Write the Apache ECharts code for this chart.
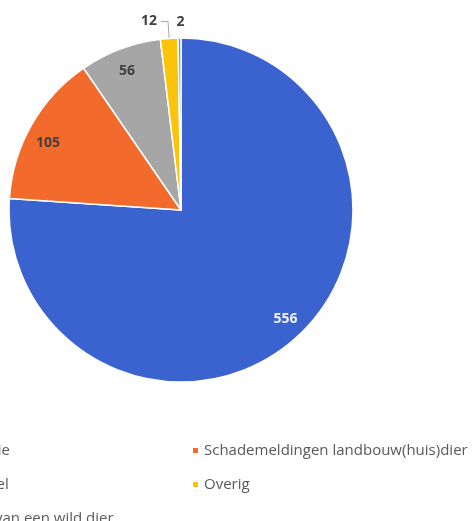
<!DOCTYPE html>
<html>
<head>
<meta charset="utf-8">
<script src="https://cdn.jsdelivr.net/npm/echarts@6/dist/echarts.min.js"></script>
<style>
html,body{margin:0;padding:0;background:#fff;}
#c{width:474px;height:521px;}
</style>
</head>
<body>
<div id="c"></div>
<script>
var categories = ['Observatie', 'Schademeldingen landbouw(huis)dier', 'Uitwerpsel', 'Overig', 'Kadaver van een wild dier'];
var values = [556, 105, 56, 12, 2];
var colors = ['#3b63cf', '#f26a2c', '#a6a6a6', '#fcc30b', '#5b9bd5'];
var leftLegend = [categories[0], categories[2], categories[4]];
var rightLegend = [categories[1], categories[3]];

var FONT = '"Open Sans", "Noto Sans", sans-serif';
var labelColors = ['#eef1fa', '#404040', '#404040', '#404040', '#404040'];
var labelShiftY = [-3, 9, 4, 0, 0];

var mainData = categories.map(function (n, i) {
  var d = { name: n, value: values[i], itemStyle: { color: colors[i] } };
  if (i === 3) {
    d.label = { show: true, position: 'outside', formatter: '{c}', color: '#404040', fontWeight: 'bold', fontSize: 14, fontFamily: FONT, distanceToLabelLine: 4 };
    d.labelLine = { show: true, length: 17, length2: 7, lineStyle: { color: '#a6a6a6', width: 1 } };
  }
  return d;
});

var overlayData = categories.map(function (n, i) {
  var d = { name: n, value: values[i] };
  if (i <= 2) {
    d.label = { show: true, position: 'inside', formatter: '{c}', color: labelColors[i], fontWeight: 'bold', fontSize: 14, fontFamily: FONT };
  } else if (i === 4) {
    d.label = { show: true, position: 'outside', formatter: '{c}', color: '#404040', fontWeight: 'bold', fontSize: 14, fontFamily: FONT, distanceToLabelLine: -5 };
    d.labelLine = { show: false, length: 16, length2: 0 };
  } else {
    d.label = { show: false };
  }
  return d;
});

var legendCommon = {
  orient: 'vertical',
  icon: 'rect',
  itemWidth: 7,
  itemHeight: 7,
  itemGap: 17,
  top: 437,
  height: 200,
  selectedMode: false,
  textStyle: { color: '#595959', fontSize: 15, fontFamily: FONT, lineHeight: 17 }
};

var chart = echarts.init(document.getElementById('c'));
chart.setOption({
  animation: false,
  color: colors,
  legend: [
    Object.assign({}, legendCommon, { left: -84, data: leftLegend }),
    Object.assign({}, legendCommon, { left: 186, data: rightLegend })
  ],
  series: [
    {
      type: 'pie',
      center: [181, 210],
      radius: [0, 172],
      startAngle: 90,
      clockwise: true,
      avoidLabelOverlap: false,
      label: { show: false },
      labelLine: { show: false },
      itemStyle: { borderColor: '#ffffff', borderWidth: 1.5 },
      emphasis: { disabled: true },
      data: mainData
    },
    {
      type: 'pie',
      center: [181, 210],
      radius: [128, 172],
      startAngle: 90,
      clockwise: true,
      silent: true,
      avoidLabelOverlap: false,
      itemStyle: { color: 'rgba(0,0,0,0)' },
      label: { show: false },
      labelLine: { show: false },
      labelLayout: function (p) { return { dy: labelShiftY[p.dataIndex] }; },
      emphasis: { disabled: true },
      data: overlayData
    }
  ]
});
</script>
</body>
</html>
